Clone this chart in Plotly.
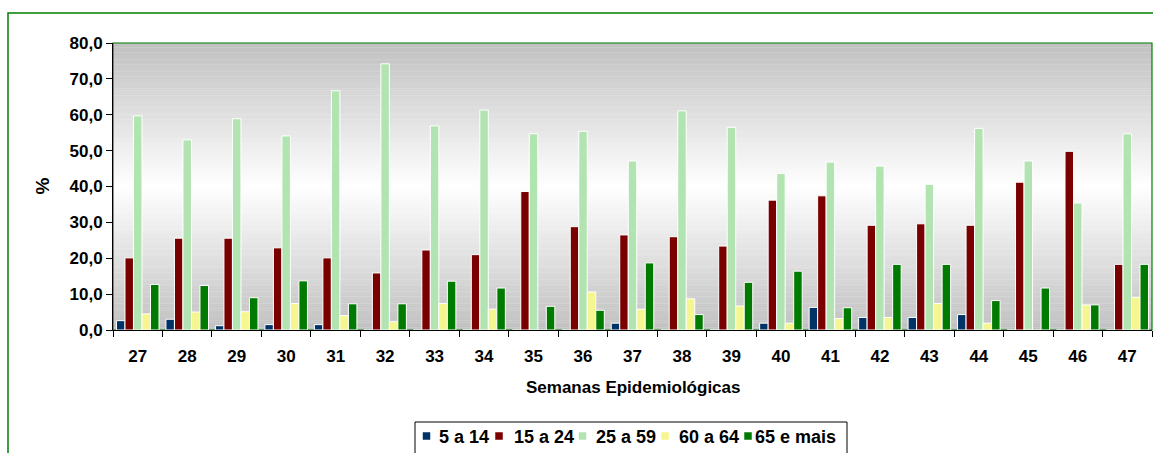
import plotly.graph_objects as go

weeks = ["27", "28", "29", "30", "31", "32", "33", "34", "35", "36", "37",
         "38", "39", "40", "41", "42", "43", "44", "45", "46", "47"]

s_5a14 = [2.6, 3.0, 1.2, 1.5, 1.5, 0.0, 0.0, 0.0, 0.0, 0.0, 1.9,
          0.0, 0.0, 1.9, 6.3, 3.5, 3.5, 4.3, 0.0, 0.0, 0.0]
s_15a24 = [20.1, 25.6, 25.6, 22.9, 20.1, 15.9, 22.3, 21.0, 38.6, 28.8, 26.5,
           26.0, 23.4, 36.2, 37.4, 29.2, 29.6, 29.2, 41.2, 49.8, 18.3]
s_25a59 = [59.7, 53.0, 58.9, 54.1, 66.7, 74.2, 56.9, 61.3, 54.7, 55.4, 47.1,
           61.1, 56.5, 43.6, 46.8, 45.7, 40.6, 56.2, 47.1, 35.4, 54.7]
s_60a64 = [4.5, 5.0, 5.1, 7.4, 4.0, 2.3, 7.4, 5.8, 0.0, 10.6, 5.8,
           8.7, 6.7, 1.9, 3.2, 3.5, 7.4, 1.9, 0.0, 7.0, 9.1]
s_65mais = [12.7, 12.4, 9.0, 13.7, 7.3, 7.3, 13.6, 11.7, 6.6, 5.5, 18.7,
            4.3, 13.3, 16.4, 6.2, 18.3, 18.3, 8.2, 11.7, 7.0, 18.3]

series_names = ["5 a 14", "15 a 24", "25 a 59", "60 a 64", "65 e mais"]
series_values = [s_5a14, s_15a24, s_25a59, s_60a64, s_65mais]
series_colors = ["#003366", "#7a0000", "#b2e4b2", "#f6f690", "#007a00"]

FONT = "Liberation Sans, Arial, sans-serif"

W, H = 1153, 453
ML, MR, MT, MB = 113, 1, 43, 123
PW = W - ML - MR
PH = H - MT - MB


def px(X):
    return (X - ML) / PW


def py(Y):
    return (MT + PH - Y) / PH


fig = go.Figure()
for name, vals, col in zip(series_names, series_values, series_colors):
    fig.add_trace(go.Bar(
        x=weeks, y=vals, name=name, showlegend=False,
        marker=dict(color=col, line=dict(color="white", width=1)),
    ))

shapes = []
# gradient background stripes (gray -> white -> gray)
n = 120
for i in range(n):
    t0 = i / n
    t1 = (i + 1) / n
    d = abs((t0 + t1) / 2 - 0.5) * 2
    g = int(round(255 - d * (255 - 192)))
    shapes.append(dict(type="rect", xref="paper", yref="paper",
                       x0=0, x1=1, y0=t0, y1=t1 + 0.001,
                       fillcolor=f"rgb({g},{g},{g})", line=dict(width=0),
                       layer="below"))
# plot area border (green)
shapes.append(dict(type="rect", xref="paper", yref="paper", x0=0, x1=1, y0=0, y1=1,
                   line=dict(color="#008000", width=1.2), layer="below"))
# outer chart border
shapes.append(dict(type="rect", xref="paper", yref="paper",
                   x0=px(8), x1=1.05, y0=-0.6, y1=py(13),
                   line=dict(color="#008000", width=1.5), layer="below"))

# legend (drawn manually for compact Excel-like spacing)
shapes.append(dict(type="rect", xref="paper", yref="paper",
                   x0=px(415), x1=px(847), y0=py(480), y1=py(422),
                   line=dict(color="black", width=1), fillcolor="white", layer="above"))
sym_cx = [426.5, 499, 582.5, 665, 748]
txt_x = [437, 512, 594, 677, 753]
annotations = []
for name, col, sx, tx in zip(series_names, series_colors, sym_cx, txt_x):
    shapes.append(dict(type="rect", xref="paper", yref="paper",
                       x0=px(sx - 3.5), x1=px(sx + 3.5), y0=py(439.5), y1=py(432.5),
                       fillcolor=col, line=dict(color=col, width=0.5), layer="above"))
    annotations.append(dict(text=name, xref="paper", yref="paper", x=px(tx), y=py(437),
                            xanchor="left", yanchor="middle", showarrow=False,
                            font=dict(size=18, weight="bold")))

annotations += [
    dict(text="%", xref="paper", yref="paper", x=px(42), y=0.5,
         textangle=-90, showarrow=False, font=dict(size=19, weight="bold"),
         xanchor="center", yanchor="middle"),
    dict(text="Semanas Epidemiológicas", xref="paper", yref="paper",
         x=0.5, y=py(387), showarrow=False,
         font=dict(size=17, weight="bold"), xanchor="center", yanchor="middle"),
]

fig.update_layout(
    width=W, height=H,
    margin=dict(l=ML, r=MR, t=MT, b=MB),
    paper_bgcolor="white",
    plot_bgcolor="rgba(0,0,0,0)",
    separators=",.",
    barmode="group",
    bargap=0.14,
    bargroupgap=0,
    font=dict(family=FONT, color="black", size=15),
    shapes=shapes,
    annotations=annotations,
    showlegend=False,
    xaxis=dict(
        type="category", showgrid=False, showline=True, linecolor="black",
        ticks="outside", tickson="boundaries", ticklen=6, tickcolor="black",
        tickfont=dict(size=17, weight="bold"), ticklabelstandoff=11,
    ),
    yaxis=dict(
        range=[0, 80], dtick=10, tickformat=".1f", showgrid=False,
        showline=True, linecolor="black", ticks="outside", ticklen=6,
        tickcolor="black", tickfont=dict(size=17, weight="bold"),
        zeroline=False,
    ),
)

fig.write_html("out.html",
               config={"displayModeBar": False},
               post_script="document.body.style.margin='0px';"
                           "document.body.style.overflow='hidden';")
